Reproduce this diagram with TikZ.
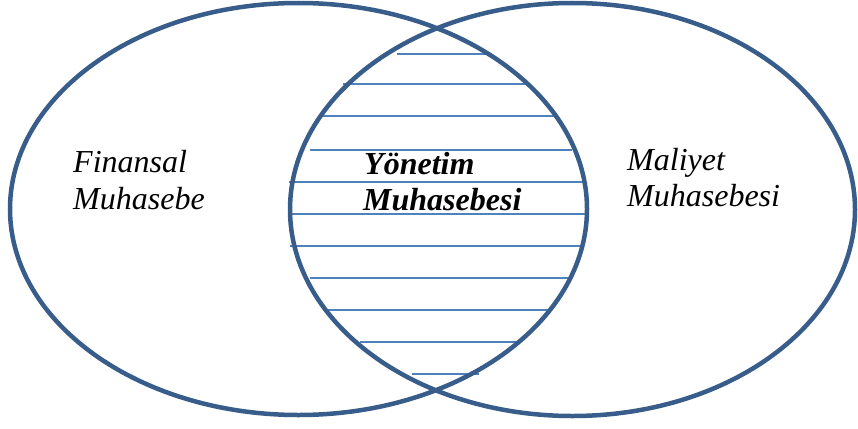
\documentclass[tikz,border=0pt]{standalone}
\usepackage{fontspec}
\setmainfont{Liberation Serif}[
  UprightFont={Liberation Serif},
  BoldFont={Liberation Serif Bold},
  ItalicFont={Liberation Serif Italic},
  BoldItalicFont={Liberation Serif Bold Italic}]
\definecolor{ringblue}{HTML}{385D8A}
\definecolor{hatchblue}{HTML}{4F81BD}
\tikzset{
  ring/.style={draw=ringblue, line width=4.5pt},
  hatchline/.style={draw=hatchblue, line width=1.6pt},
  label/.style={inner sep=0pt, anchor=base west, font=\fontsize{32}{38}\selectfont\itshape},
  boldlabel/.style={label, font=\fontsize{32}{38}\selectfont\bfseries\itshape}
}
\begin{document}
\begin{tikzpicture}[x=1pt,y=-1pt]
\useasboundingbox (0,0) rectangle (858,428);
% hatching of the intersection
\foreach \yy/\xa/\xb in {54/397/488, 84/343/527, 116/323/558, 150/310/572, 182/289/583,
  214/288/585, 246/290/583, 278/310/570, 310/325/548, 342/360/517, 374/412/479}
  {\draw[hatchline] (\xa,\yy) -- (\xb,\yy);}
% ellipses
\draw[ring] (298.5,209) ellipse [x radius=288.5pt, y radius=206pt];
\draw[ring] (572.5,209.5) ellipse [x radius=282.5pt, y radius=206.5pt];
% labels
\node[label] (fin1) at (73,172) {Finansal};
\node[label] (fin2) at (73,209) {Muhasebe};
\node[boldlabel] (yon1) at (364,174) {Yönetim};
\node[boldlabel] (yon2) at (363,210.5) {Muhasebesi};
\node[label] (mal1) at (627,170) {Maliyet};
\node[label] (mal2) at (627,206.5) {Muhasebesi};
\end{tikzpicture}
\end{document}
